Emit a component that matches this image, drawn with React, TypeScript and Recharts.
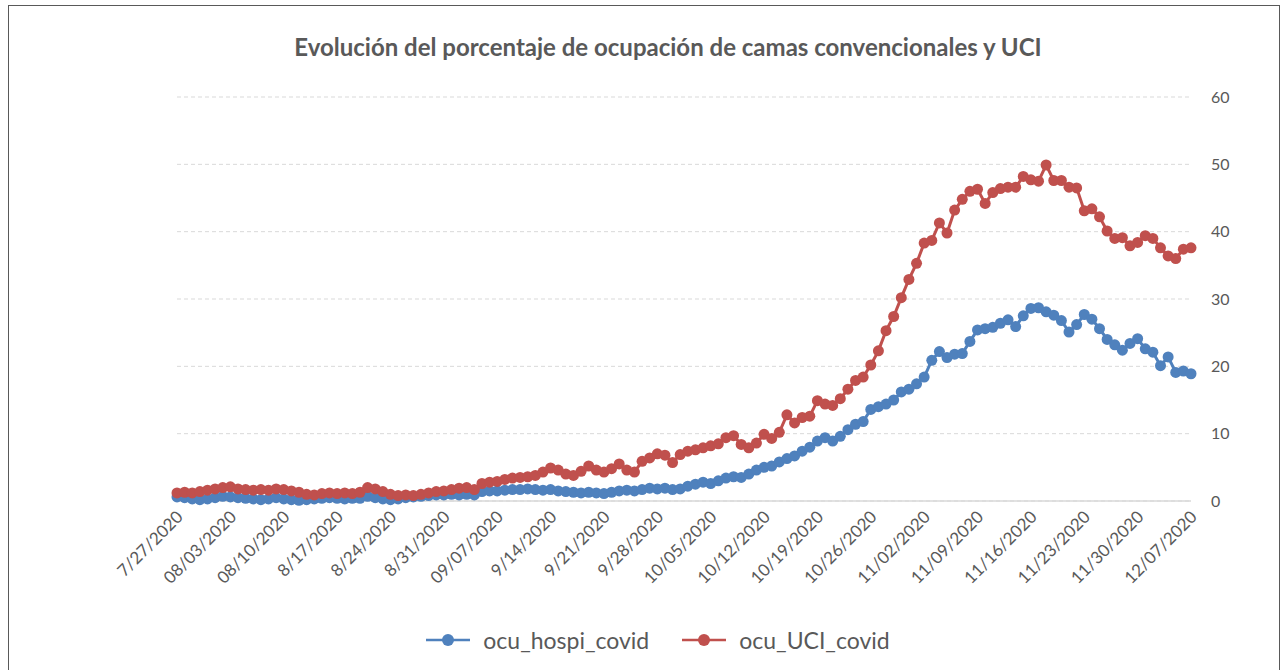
import { CartesianGrid, Legend, Line, LineChart, XAxis, YAxis } from "recharts";

const monthLengths = [
  { month: 7, from: 27, to: 31 },
  { month: 8, from: 1, to: 31 },
  { month: 9, from: 1, to: 30 },
  { month: 10, from: 1, to: 31 },
  { month: 11, from: 1, to: 30 },
  { month: 12, from: 1, to: 7 },
];

const pad = (n: number) => String(n).padStart(2, "0");

// categories: one per day, 7/27/2020 .. 12/07/2020
const dates: string[] = [];
monthLengths.forEach(({ month, from, to }) => {
  for (let d = from; d <= to; d++) {
    dates.push(d <= 12 ? `${pad(month)}/${pad(d)}/2020` : `${month}/${d}/2020`);
  }
});

const hospiValues = [
  0.6, 0.5, 0.3, 0.2, 0.3, 0.5, 0.7, 0.6, 0.5, 0.4, 0.3, 0.2, 0.3, 0.5, 0.3,
  0.2, 0.1, 0.2, 0.3, 0.4, 0.5, 0.4, 0.3, 0.4, 0.4, 0.7, 0.5, 0.3, 0.2, 0.3,
  0.5, 0.6, 0.7, 0.8, 0.9, 0.9, 1.0, 0.9, 1.0, 0.9, 1.4, 1.5, 1.5, 1.6, 1.7,
  1.7, 1.8, 1.7, 1.6, 1.7, 1.5, 1.4, 1.3, 1.2, 1.3, 1.2, 1.1, 1.3, 1.5, 1.6,
  1.5, 1.7, 1.9, 1.8, 1.9, 1.7, 1.8, 2.2, 2.5, 2.8, 2.6, 3.0, 3.4, 3.6, 3.5,
  4.0, 4.6, 5.0, 5.2, 5.8, 6.3, 6.7, 7.4, 8.0, 8.9, 9.4, 8.9, 9.6, 10.6, 11.4,
  11.8, 13.6, 14.0, 14.4, 15.0, 16.2, 16.6, 17.4, 18.4, 20.9, 22.2, 21.3, 21.8,
  21.9, 23.7, 25.4, 25.6, 25.8, 26.4, 26.9, 25.9, 27.5, 28.6, 28.7, 28.1, 27.6,
  26.8, 25.1, 26.2, 27.7, 27.0, 25.6, 24.0, 23.2, 22.4, 23.4, 24.1, 22.6, 22.1,
  20.1, 21.4, 19.1, 19.3, 18.9,
];

const uciValues = [
  1.2, 1.3, 1.2, 1.4, 1.6, 1.8, 2.0, 2.1, 1.8, 1.7, 1.6, 1.7, 1.6, 1.8, 1.7,
  1.5, 1.3, 1.0, 0.9, 1.1, 1.2, 1.1, 1.2, 1.1, 1.3, 2.0, 1.8, 1.4, 1.0, 0.8,
  0.9, 0.8, 1.0, 1.2, 1.4, 1.5, 1.7, 1.9, 2.0, 1.7, 2.6, 2.8, 2.9, 3.2, 3.4,
  3.5, 3.6, 3.8, 4.3, 4.9, 4.6, 4.0, 3.8, 4.4, 5.2, 4.6, 4.3, 4.8, 5.5, 4.6,
  4.3, 5.9, 6.4, 7.0, 6.8, 5.7, 6.9, 7.4, 7.6, 7.9, 8.2, 8.5, 9.4, 9.7, 8.4,
  7.9, 8.6, 9.9, 9.3, 10.2, 12.8, 11.6, 12.4, 12.6, 14.9, 14.4, 14.2, 15.2,
  16.6, 17.9, 18.4, 20.2, 22.3, 25.3, 27.4, 30.2, 32.9, 35.3, 38.3, 38.7, 41.3,
  39.8, 43.2, 44.8, 46.0, 46.3, 44.2, 45.8, 46.4, 46.6, 46.6, 48.2, 47.7, 47.5,
  49.9, 47.6, 47.6, 46.6, 46.5, 43.1, 43.4, 42.2, 40.1, 39.0, 39.1, 37.9, 38.4,
  39.4, 39.0, 37.6, 36.4, 36.0, 37.4, 37.6,
];

const yTicks = [0, 10, 20, 30, 40, 50, 60];

const seriesNames = ["ocu_hospi_covid", "ocu_UCI_covid"];
const colors = ["#4F81BD", "#C0504D"];

const data = dates.map((date, i) => ({
  date,
  ocu_hospi_covid: hospiValues[i],
  ocu_UCI_covid: uciValues[i],
}));

const font = "Lato, 'Open Sans', sans-serif";

function DateTick({ x, y, payload }: any) {
  return (
    <text
      transform={`translate(${x + 4},${y + 6}) rotate(-45)`}
      textAnchor="end"
      dominantBaseline="middle"
      fill="#595959"
      fontSize={17}
      fontFamily={font}
    >
      {payload.value}
    </text>
  );
}

function LegendContent() {
  return (
    <div
      style={{
        display: "flex",
        justifyContent: "center",
        gap: 33,
        fontFamily: font,
        fontSize: 23,
        color: "#595959",
        paddingRight: 114,
        paddingTop: 4,
      }}
    >
      {seriesNames.map((name, i) => (
        <div key={name} style={{ display: "flex", alignItems: "center", gap: 13 }}>
          <svg width={44} height={14}>
            <line x1={0} y1={7} x2={44} y2={7} stroke={colors[i]} strokeWidth={2.5} />
            <circle cx={22} cy={7} r={6} fill={colors[i]} />
          </svg>
          <span>{name}</span>
        </div>
      ))}
    </div>
  );
}

export default function App() {
  return (
    <div
      style={{
        position: "absolute",
        left: 8,
        top: 5,
        width: 1272,
        height: 665,
        border: "1px solid #595959",
        borderBottom: "none",
        boxSizing: "border-box",
        background: "#fff",
      }}
    >
      <div
        style={{
          position: "absolute",
          top: 26,
          width: "100%",
          boxSizing: "border-box",
          paddingLeft: 48,
          textAlign: "center",
          fontFamily: font,
          fontWeight: 700,
          fontSize: 24,
          color: "#595959",
        }}
      >
        Evolución del porcentaje de ocupación de camas convencionales y UCI
      </div>
      <LineChart
        width={1270}
        height={664}
        data={data}
        margin={{ top: 91, left: 168, right: 26, bottom: 18 }}
      >
        <CartesianGrid vertical={false} stroke="#d9d9d9" strokeDasharray="4 3" />
        <XAxis
          dataKey="date"
          interval={6}
          tick={<DateTick />}
          tickLine={false}
          axisLine={{ stroke: "#d9d9d9", strokeWidth: 1.5 }}
          height={121}
          padding={{ left: 0, right: 0 }}
        />
        <YAxis
          orientation="right"
          domain={[0, 60]}
          ticks={yTicks}
          axisLine={false}
          tickLine={false}
          tickSize={0}
          tickMargin={20}
          width={62}
          tick={{ fill: "#595959", fontSize: 16, fontFamily: font, textAnchor: "start" }}
        />
        <Legend verticalAlign="bottom" height={30} content={<LegendContent />} />
        {seriesNames.map((name, i) => (
          <Line
            key={name}
            type="linear"
            dataKey={name}
            stroke={colors[i]}
            strokeWidth={3}
            dot={{ r: 5.5, fill: colors[i], stroke: colors[i], strokeWidth: 0 }}
            isAnimationActive={false}
          />
        ))}
      </LineChart>
    </div>
  );
}
